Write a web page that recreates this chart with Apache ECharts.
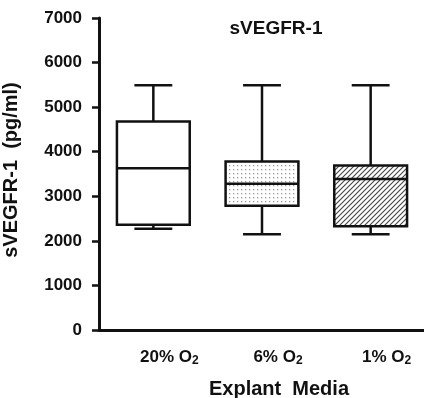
<!DOCTYPE html>
<html>
<head>
<meta charset="utf-8">
<script src="https://cdn.jsdelivr.net/npm/echarts@6/dist/echarts.min.js"></script>
<style>
  html, body { margin: 0; padding: 0; background: #fff; }
  #chart { width: 424px; height: 398px; }
</style>
</head>
<body>
<div id="chart"></div>
<script>
// 分组（x 轴标签的百分比部分）
const groups = ['20%', '6%', '1%'];
// 箱线图各分位数 pg/ml
const whiskerLow = [2270, 2150, 2150];
const q1 = [2360, 2790, 2330];
const median = [3630, 3280, 3390];
const q3 = [4680, 3780, 3690];
const whiskerHigh = [5490, 5490, 5490];
// y 轴刻度
const yTicks = [0, 1000, 2000, 3000, 4000, 5000, 6000, 7000];

const FONT = '"Liberation Sans", Arial, sans-serif';
const INK = '#111';

// 点状填充
function dotPattern() {
  const c = document.createElement('canvas');
  c.width = 4;
  c.height = 4;
  const ctx = c.getContext('2d');
  ctx.fillStyle = '#fff';
  ctx.fillRect(0, 0, 4, 4);
  ctx.fillStyle = '#9a9a9a';
  ctx.fillRect(1, 1, 1.3, 1.3);
  return { image: c, repeat: 'repeat' };
}

// 斜线填充
function hatchPattern() {
  const s = 5;
  const c = document.createElement('canvas');
  c.width = s;
  c.height = s;
  const ctx = c.getContext('2d');
  ctx.fillStyle = '#fff';
  ctx.fillRect(0, 0, s, s);
  ctx.strokeStyle = '#444';
  ctx.lineWidth = 1.1;
  ctx.beginPath();
  ctx.moveTo(-1, s + 1); ctx.lineTo(s + 1, -1);
  ctx.moveTo(-1, 1); ctx.lineTo(1, -1);
  ctx.moveTo(s - 1, s + 1); ctx.lineTo(s + 1, s - 1);
  ctx.stroke();
  return { image: c, repeat: 'repeat' };
}

const fills = ['#fff', dotPattern(), hatchPattern()];

function renderBox(params, api) {
  const i = api.value(0);
  const lo = api.coord([i, api.value(1)]);
  const b = api.coord([i, api.value(2)]);
  const m = api.coord([i, api.value(3)]);
  const t = api.coord([i, api.value(4)]);
  const hi = api.coord([i, api.value(5)]);
  const boxW = api.size([1, 0])[0] * 0.67;
  const capW = boxW * 0.52;
  const cx = lo[0];
  const stroke = { stroke: INK, lineWidth: 2.5, fill: null };
  return {
    type: 'group',
    children: [
      { type: 'line', shape: { x1: cx, y1: hi[1], x2: cx, y2: t[1] }, style: stroke },
      { type: 'line', shape: { x1: cx, y1: b[1], x2: cx, y2: lo[1] }, style: stroke },
      { type: 'line', shape: { x1: cx - capW / 2, y1: hi[1], x2: cx + capW / 2, y2: hi[1] }, style: stroke },
      { type: 'line', shape: { x1: cx - capW / 2, y1: lo[1], x2: cx + capW / 2, y2: lo[1] }, style: stroke },
      {
        type: 'rect',
        shape: { x: cx - boxW / 2, y: t[1], width: boxW, height: b[1] - t[1] },
        style: { fill: fills[params.dataIndex], stroke: INK, lineWidth: 2.5 }
      },
      { type: 'line', shape: { x1: cx - boxW / 2, y1: m[1], x2: cx + boxW / 2, y2: m[1] }, style: stroke }
    ]
  };
}

const chart = echarts.init(document.getElementById('chart'), null, { renderer: 'canvas' });

chart.setOption({
  backgroundColor: '#fff',
  animation: false,
  title: {
    text: 'sVEGFR-1',
    left: 271,
    top: 14,
    textAlign: 'center',
    textStyle: { fontFamily: FONT, fontWeight: 'bold', fontSize: 19, color: INK }
  },
  grid: { left: 99, right: -1, top: 18, bottom: 68, outerBoundsMode: 'none' },
  xAxis: {
    type: 'category',
    data: groups,
    name: 'Explant  Media',
    nameLocation: 'middle',
    nameGap: 49,
    nameTextStyle: {
      fontFamily: FONT, fontWeight: 'bold', fontSize: 20, color: INK,
      padding: [0, 0, 0, 34]
    },
    axisLine: { lineStyle: { color: INK, width: 3 } },
    axisTick: { alignWithLabel: true, length: 7, lineStyle: { color: INK, width: 2.5 } },
    axisLabel: {
      interval: 0,
      margin: 17,
      padding: [0, 0, 0, 32],
      fontFamily: FONT, fontWeight: 'bold', fontSize: 17, color: INK,
      formatter: v => v + ' O{sub|2}',
      rich: {
        sub: {
          fontFamily: FONT, fontWeight: 'bold', fontSize: 12, color: INK,
          verticalAlign: 'bottom', padding: [8, 0, 0, 0]
        }
      }
    }
  },
  yAxis: {
    type: 'value',
    min: yTicks[0],
    max: yTicks[yTicks.length - 1],
    interval: 1000,
    name: 'sVEGFR-1  (pg/ml)',
    nameLocation: 'middle',
    nameGap: 78,
    nameTextStyle: {
      fontFamily: FONT, fontWeight: 'bold', fontSize: 20, color: INK,
      padding: [0, 0, 0, 8]
    },
    splitLine: { show: false },
    axisLine: { show: true, lineStyle: { color: INK, width: 3 } },
    axisTick: { show: true, length: 7, lineStyle: { color: INK, width: 2.5 } },
    axisLabel: {
      margin: 17,
      fontFamily: FONT, fontWeight: 'bold', fontSize: 17, color: INK,
      formatter: v => String(v)
    }
  },
  series: [
    {
      type: 'custom',
      renderItem: renderBox,
      encode: { x: 0, y: [1, 2, 3, 4, 5] },
      data: groups.map((g, i) => [i, whiskerLow[i], q1[i], median[i], q3[i], whiskerHigh[i]])
    }
  ]
});
</script>
</body>
</html>
